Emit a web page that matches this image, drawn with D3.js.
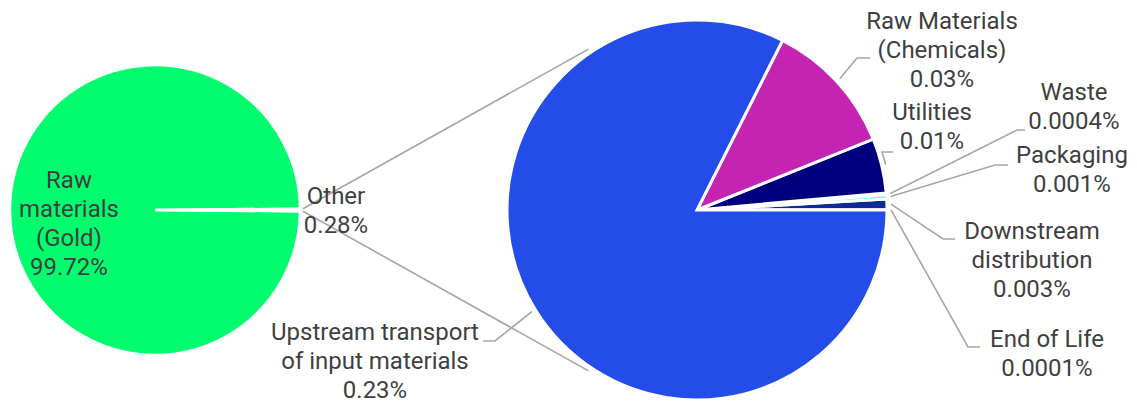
<!DOCTYPE html>
<html>
<head>
<meta charset="utf-8">
<script src="https://cdn.jsdelivr.net/npm/d3@7"></script>
<style>
  body { margin: 0; background: #fff; }
  text { font-family: Roboto, "Noto Sans", sans-serif; font-size: 24px; fill: #3f3f3f; }
</style>
</head>
<body>
<div id="chart"></div>
<script>
// left pie: gold vs everything else
const goldNames = ["Raw\nmaterials\n(Gold)", "Other"];
const goldValues = [99.72, 0.28];
const goldLabels = ["99.72%", "0.28%"];

// right pie: breakdown of "Other", counter-clockwise from 3 o'clock
const otherNames = ["End of Life", "Downstream\ndistribution", "Packaging", "Waste",
                    "Utilities", "Raw Materials\n(Chemicals)", "Upstream transport\nof input materials"];
const otherValues = [0.0001, 0.0025, 0.001, 0.0004, 0.013, 0.032, 0.23];
const otherLabels = ["0.0001%", "0.003%", "0.001%", "0.0004%", "0.01%", "0.03%", "0.23%"];

const goldColors = ["#00fd6e", "#ffffff"];
const otherColors = ["#2a40c8", "#0e2a96", "#5ef2f2", "#b0e8ff", "#00007e", "#c424b1", "#234ce9"];

const W = 1137, H = 405;
const lineH = 29;
const leaderColor = "#a6a6a6";

const svg = d3.select("#chart").append("svg")
    .attr("width", W)
    .attr("height", H);

function polar(c, rad, a) {
  return [c.cx + rad * Math.sin(a), c.cy - rad * Math.cos(a)];
}

// ---- left pie, "Other" slice centred on 3 o'clock
const L = {cx: 155, cy: 210, r: 145};
const delta = 2 * Math.PI * goldValues[1] / d3.sum(goldValues);
const leftPie = d3.pie().sort(null)
    .startAngle(Math.PI / 2 + delta / 2)
    .endAngle(Math.PI / 2 + delta / 2 + 2 * Math.PI);
const leftArcs = leftPie(goldValues);
const leftArc = d3.arc().innerRadius(0).outerRadius(L.r);

svg.append("g")
    .attr("transform", `translate(${L.cx},${L.cy})`)
  .selectAll("path")
    .data(leftArcs)
    .join("path")
    .attr("d", leftArc)
    .attr("fill", (d, i) => goldColors[i])
    .attr("stroke", "#fff")
    .attr("stroke-width", 2.5);

// ---- right pie
const R = {cx: 697, cy: 210, r: 190};
const rightPie = d3.pie().sort(null)
    .startAngle(Math.PI / 2)
    .endAngle(Math.PI / 2 - 2 * Math.PI);
const rightArcs = rightPie(otherValues);
const rightArc = d3.arc().innerRadius(0).outerRadius(R.r);

// connector lines from the edges of the "Other" slice to the second pie
const linkAngle = 124 * Math.PI / 180; // ccw from east
const connectors = [
  [polar(L, L.r + 3, Math.PI / 2 - delta / 2), polar(R, R.r + 4, Math.PI / 2 - linkAngle)],
  [polar(L, L.r + 3, Math.PI / 2 + delta / 2), polar(R, R.r + 4, Math.PI / 2 + linkAngle)]
];

svg.append("g").selectAll("line")
    .data(connectors)
    .join("line")
    .attr("x1", d => d[0][0]).attr("y1", d => d[0][1])
    .attr("x2", d => d[1][0]).attr("y2", d => d[1][1])
    .attr("stroke", leaderColor)
    .attr("stroke-width", 1.6);

svg.append("g")
    .attr("transform", `translate(${R.cx},${R.cy})`)
  .selectAll("path")
    .data(rightArcs)
    .join("path")
    .attr("d", rightArc)
    .attr("fill", (d, i) => otherColors[i])
    .attr("stroke", "#fff")
    .attr("stroke-width", 3);

// ---- labels (centre x, first baseline, leader elbow and end)
const otherLayout = [
  {x: 1047, y: 347, elbow: [968, 347], end: [980, 347]},
  {x: 1032, y: 239, elbow: [943, 239], end: [955, 239]},
  {x: 1072, y: 163, elbow: [995, 165], end: [1008, 165]},
  {x: 1074, y: 100, elbow: [1017, 130], end: [1025, 130]},
  {x: 932,  y: 120, elbow: [882, 152], end: [893, 152]},
  {x: 942,  y: 29,  elbow: [857, 58],  end: [870, 58]},
  {x: 375,  y: 340, elbow: [495, 341], end: [483, 341]}
];
const leaderArc = d3.arc().innerRadius(R.r + 4).outerRadius(R.r + 4);

svg.append("g").selectAll("polyline")
    .data(rightArcs)
    .join("polyline")
    .attr("points", (d, i) => {
      const c = leaderArc.centroid(d);
      const p0 = [R.cx + c[0], R.cy + c[1]];
      return [p0, otherLayout[i].elbow, otherLayout[i].end].map(p => p.join(",")).join(" ");
    })
    .attr("fill", "none")
    .attr("stroke", leaderColor)
    .attr("stroke-width", 1.6);

function addLabel(name, pct, pos) {
  const lines = name.split("\n").concat([pct]);
  const t = svg.append("text")
      .attr("text-anchor", "middle")
      .attr("x", pos.x)
      .attr("y", pos.y);
  lines.forEach((s, k) => {
    t.append("tspan").attr("x", pos.x).attr("y", pos.y + k * lineH).text(s);
  });
}

const goldLayout = [{x: 69, y: 188}, {x: 336, y: 204}];
goldNames.forEach((n, i) => addLabel(n, goldLabels[i], goldLayout[i]));
otherNames.forEach((n, i) => addLabel(n, otherLabels[i], otherLayout[i]));
</script>
</body>
</html>
